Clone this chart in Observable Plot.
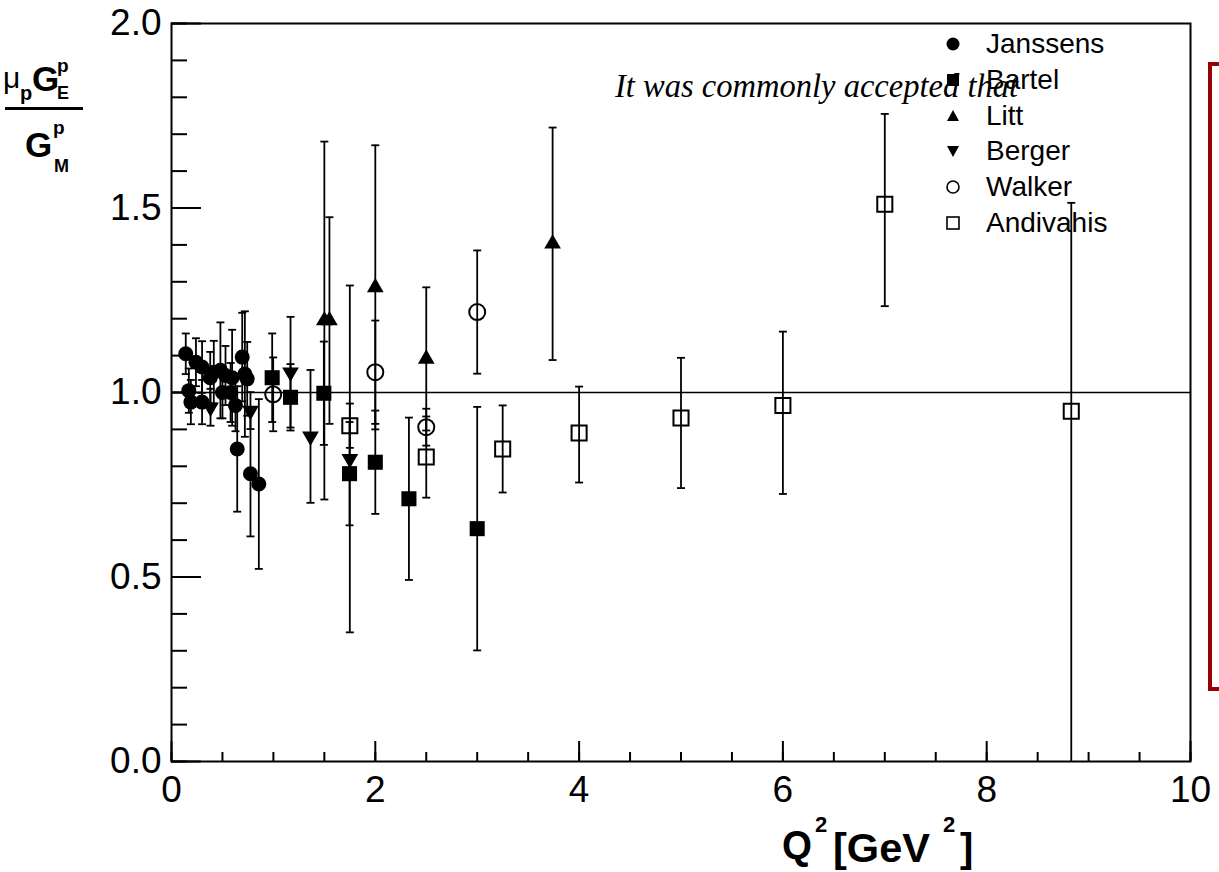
<!DOCTYPE html>
<html><head><meta charset="utf-8">
<script src="https://cdn.jsdelivr.net/npm/d3@7"></script>
<script src="https://cdn.jsdelivr.net/npm/@observablehq/plot@0.6"></script>
<style>
body{margin:0;background:#fff;}
#wrap{position:relative;width:1219px;height:872px;overflow:hidden;background:#fff;font-family:"Liberation Sans",Arial,sans-serif;}
#chart{position:absolute;left:0;top:0;}
#over{position:absolute;left:0;top:0;pointer-events:none;}
#redbox{position:absolute;left:1208px;top:62px;width:60px;height:621px;border:4px solid #9b0000;}
#legend{position:absolute;left:943px;top:26px;font-size:28px;color:#000;}
.row{position:relative;height:35.8px;}
.row svg{position:absolute;left:0;top:8px;}
.row span{position:absolute;left:43px;top:0;line-height:35.8px;white-space:nowrap;}
</style></head><body>
<div id="wrap">
<div id="chart"></div>
<svg id="over" width="1219" height="872" font-family="Liberation Sans, Arial, sans-serif">
  <text x="615" y="97" font-family="Liberation Serif, Times New Roman, serif" font-style="italic" font-size="33" textLength="403" lengthAdjust="spacingAndGlyphs">It was commonly accepted that</text>
  <text x="3" y="88" font-size="30">μ</text>
  <text x="20" y="100" font-size="20" font-weight="bold">p</text>
  <text x="32" y="91" font-size="35" font-weight="bold">G</text>
  <text x="57" y="72" font-size="19" font-weight="bold">p</text>
  <text x="57" y="99" font-size="18" font-weight="bold">E</text>
  <rect x="5" y="107" width="78" height="3" fill="black"/>
  <text x="25" y="157" font-size="35" font-weight="bold">G</text>
  <text x="53" y="134" font-size="19" font-weight="bold">p</text>
  <text x="54" y="172" font-size="18" font-weight="bold">M</text>
  <text x="782" y="859" font-size="40" font-weight="bold" textLength="30" lengthAdjust="spacingAndGlyphs">Q</text>
  <text x="815" y="832" font-size="22" font-weight="bold">2</text>
  <text x="833" y="862" font-size="40" font-weight="bold" textLength="97" lengthAdjust="spacingAndGlyphs">[GeV</text>
  <text x="943" y="832" font-size="22" font-weight="bold">2</text>
  <text x="960" y="862" font-size="40" font-weight="bold">]</text>
</svg>
<div id="redbox"></div>
<div id="legend"></div>
</div>
<script>
// ---- data ----
const seriesNames = ["Janssens", "Bartel", "Litt", "Berger", "Walker", "Andivahis"];

const janssensQ2  = [0.14, 0.17, 0.19, 0.24, 0.30, 0.30, 0.38, 0.415, 0.48, 0.50, 0.53, 0.58, 0.595, 0.628, 0.645, 0.694, 0.72, 0.743, 0.775, 0.857];
const janssensR   = [1.105, 1.005, 0.974, 1.082, 1.069, 0.974, 1.04, 1.055, 1.06, 1.0, 1.046, 1.0, 1.04, 0.965, 0.847, 1.096, 1.05, 1.037, 0.78, 0.752];
const janssensErr = [0.055, 0.06, 0.06, 0.065, 0.07, 0.06, 0.07, 0.085, 0.13, 0.07, 0.08, 0.08, 0.13, 0.07, 0.17, 0.12, 0.17, 0.1, 0.17, 0.23];

const bartelQ2  = [0.988, 1.168, 1.495, 1.747, 2.0, 2.33, 3.0];
const bartelR   = [1.04, 0.987, 0.998, 0.78, 0.811, 0.712, 0.631];
const bartelErr = [0.12, 0.09, 0.14, 0.14, 0.14, 0.22, 0.33];

const littQ2  = [1.5, 1.55, 2.0, 2.5, 3.74];
const littR   = [1.195, 1.195, 1.285, 1.091, 1.403];
const littErr = [0.485, 0.28, 0.385, 0.194, 0.315];

const bergerQ2  = [0.383, 0.775, 1.168, 1.364, 1.75];
const bergerR   = [0.96, 0.951, 1.055, 0.881, 0.82];
const bergerErr = [0.05, 0.05, 0.15, 0.18, 0.47];

const walkerQ2  = [0.998, 2.0, 2.5, 3.0];
const walkerR   = [0.995, 1.055, 0.906, 1.218];
const walkerErr = [0.1, 0.14, 0.05, 0.167];

const andivahisQ2      = [1.75, 2.5, 3.25, 4.0, 5.0, 6.0, 7.0, 8.83];
const andivahisR       = [0.91, 0.825, 0.847, 0.89, 0.931, 0.965, 1.51, 0.949];
const andivahisErrUp   = [0.06, 0.11, 0.118, 0.126, 0.163, 0.2, 0.245, 0.565];
const andivahisErrDown = [0.06, 0.11, 0.118, 0.134, 0.19, 0.24, 0.276, 0.949];

const yMajorTicks = [0, 0.5, 1.0, 1.5, 2.0];
const yMinorTicks = d3.range(0, 21).map(i => i / 10);
const xMajorTicks = [0, 2, 4, 6, 8, 10];
const xMinorTicks = d3.range(0, 21).map(i => i / 2);

// ---- build rows ----
function rows(name, q2, r, up, down) {
  return q2.map((q, i) => ({series: name, q2: q, r: r[i], hi: r[i] + up[i], lo: r[i] - (down ? down[i] : up[i])}));
}
const data = [
  ...rows("Janssens", janssensQ2, janssensR, janssensErr),
  ...rows("Bartel", bartelQ2, bartelR, bartelErr),
  ...rows("Litt", littQ2, littR, littErr),
  ...rows("Berger", bergerQ2, bergerR, bergerErr),
  ...rows("Walker", walkerQ2, walkerR, walkerErr),
  ...rows("Andivahis", andivahisQ2, andivahisR, andivahisErrUp, andivahisErrDown)
];

const capSymbol = {draw(ctx, size) { const w = Math.sqrt(size) / 2; ctx.moveTo(-w, 0); ctx.lineTo(w, 0); }};

const styles = {
  Janssens:  {symbol: "circle",   r: 7.5, fill: "black", stroke: "none"},
  Bartel:    {symbol: "square",   r: 8.5, fill: "black", stroke: "none"},
  Litt:      {symbol: "triangle", r: 6.2, fill: "black", stroke: "none"},
  Berger:    {symbol: "triangle", r: 6.2, fill: "black", stroke: "none", rotate: 180},
  Walker:    {symbol: "circle",   r: 8,   fill: "none",  stroke: "black", strokeWidth: 2},
  Andivahis: {symbol: "square",   r: 8.5, fill: "none",  stroke: "black", strokeWidth: 2}
};

const dotMarks = seriesNames.map(n =>
  Plot.dot(data.filter(d => d.series === n), {x: "q2", y: "r", ...styles[n]})
);

const chart = Plot.plot({
  width: 1219, height: 872,
  marginLeft: 171, marginRight: 29, marginTop: 23, marginBottom: 111,
  x: {domain: [0, 10]},
  y: {domain: [0, 2]},
  style: {fontFamily: "Liberation Sans, Arial, sans-serif", background: "transparent", color: "black"},
  marks: [
    Plot.ruleY([1], {stroke: "black", strokeWidth: 1.5}),
    Plot.axisY(yMajorTicks, {tickSize: -30, fill: "none", strokeWidth: 2, label: null}),
    Plot.axisY(yMinorTicks, {tickSize: -16, fill: "none", strokeWidth: 2, label: null}),
    Plot.axisY(yMajorTicks, {tickSize: 0, tickPadding: 10, fontSize: 37, tickFormat: d3.format(".1f"), label: null}),
    Plot.axisX(xMajorTicks, {tickSize: -20, fill: "none", strokeWidth: 2, label: null}),
    Plot.axisX(xMinorTicks, {tickSize: -9, fill: "none", strokeWidth: 2, label: null}),
    Plot.axisX(xMajorTicks, {tickSize: 0, tickPadding: 14, fontSize: 37, label: null}),
    Plot.ruleX(data, {x: "q2", y1: "lo", y2: "hi", stroke: "black", strokeWidth: 1.8}),
    Plot.dot(data, {x: "q2", y: "hi", symbol: capSymbol, r: 4.5, stroke: "black", strokeWidth: 1.8, fill: "none"}),
    Plot.dot(data.filter(d => d.lo > 0), {x: "q2", y: "lo", symbol: capSymbol, r: 4.5, stroke: "black", strokeWidth: 1.8, fill: "none"}),
    ...dotMarks,
    Plot.frame({stroke: "black", strokeWidth: 2})
  ]
});
document.getElementById("chart").appendChild(chart);

// ---- legend ----
const legendSvg = {
  Janssens:  '<circle cx="10" cy="10" r="6.5" fill="black"/>',
  Bartel:    '<rect x="4" y="4" width="12" height="12" fill="black"/>',
  Litt:      '<path d="M10,4 L16,15 L4,15 Z" fill="black"/>',
  Berger:    '<path d="M4,5 L16,5 L10,16 Z" fill="black"/>',
  Walker:    '<circle cx="10" cy="10" r="6" fill="none" stroke="black" stroke-width="1.6"/>',
  Andivahis: '<rect x="4" y="4" width="12" height="12" fill="none" stroke="black" stroke-width="1.6"/>'
};
const leg = document.getElementById("legend");
seriesNames.forEach(n => {
  const row = document.createElement("div");
  row.className = "row";
  row.innerHTML = `<svg width="20" height="20">${legendSvg[n]}</svg><span>${n}</span>`;
  leg.appendChild(row);
});
</script>
</body></html>
